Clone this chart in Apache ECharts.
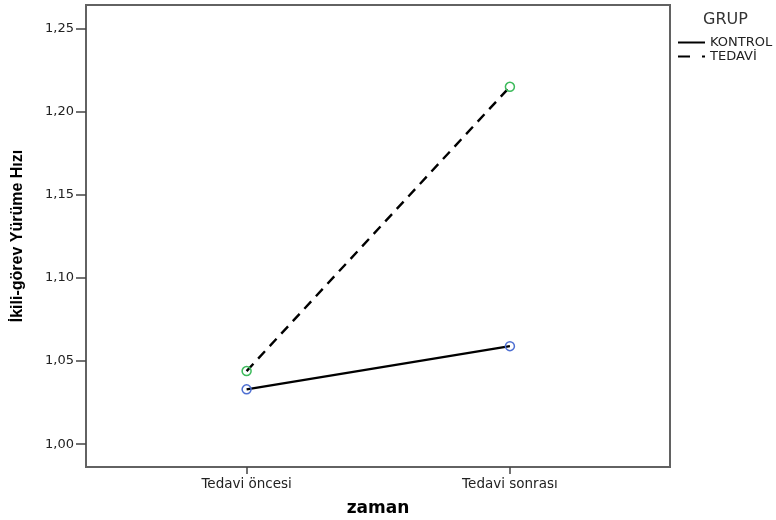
<!DOCTYPE html>
<html>
<head>
<meta charset="utf-8">
<script src="https://cdn.jsdelivr.net/npm/echarts@6/dist/echarts.min.js"></script>
<style>
  html, body { margin: 0; padding: 0; background: #fff; }
  #chart { width: 776px; height: 520px; }
</style>
</head>
<body>
<div id="chart"></div>
<script>
// Measurement occasions on the x axis
const categories = ['Tedavi öncesi', 'Tedavi sonrası'];
// Estimated marginal means of dual-task walking speed per group
const kontrol = [1.033, 1.059];
const tedavi = [1.044, 1.215];
// Y axis tick values
const yTicks = [1.00, 1.05, 1.10, 1.15, 1.20, 1.25];

const chart = echarts.init(document.getElementById('chart'), null, { renderer: 'canvas' });

const labelFont = 'DejaVu Sans';
const frameColor = '#626262';
const blackKey = { color: '#000', borderColor: '#000', borderWidth: 0 };

chart.setOption({
  animation: false,
  backgroundColor: '#ffffff',
  title: {
    text: 'GRUP',
    left: 698,
    top: 7,
    textStyle: { fontFamily: labelFont, fontSize: 16, fontWeight: 'normal', color: '#333' }
  },
  legend: {
    orient: 'vertical',
    left: 673,
    top: 31,
    itemWidth: 27,
    itemHeight: 2,
    itemGap: 1,
    itemStyle: blackKey,
    lineStyle: { color: '#000' },
    textStyle: { fontFamily: labelFont, fontSize: 13, color: '#222', lineHeight: 12 },
    data: [
      { name: 'KONTROL', icon: 'path://M0,0H27V2H0Z', itemStyle: blackKey },
      { name: 'TEDAVİ', icon: 'path://M0,0H12V2H0ZM24,0H27V2H24Z', itemStyle: blackKey }
    ]
  },
  grid: {
    left: 86, right: 106, top: 5, bottom: 53,
    containLabel: false,
    outerBoundsMode: 'none',
    show: true, borderColor: frameColor, borderWidth: 2, backgroundColor: 'transparent'
  },
  xAxis: {
    type: 'value',
    min: -0.61,
    max: 1.608,
    name: 'zaman',
    nameLocation: 'middle',
    nameGap: 33,
    nameTextStyle: { fontFamily: labelFont, fontSize: 17, fontWeight: 'bold', color: '#000' },
    axisLine: { show: false, onZero: false },
    splitLine: { show: false },
    axisTick: { show: true, length: 7, customValues: [0, 1], lineStyle: { color: '#444', width: 1.5 } },
    axisLabel: {
      customValues: [0, 1],
      margin: 10,
      formatter: v => categories[Math.round(v)],
      fontFamily: labelFont, fontSize: 13.5, color: '#222'
    }
  },
  yAxis: {
    type: 'value',
    min: 0.9863,
    max: 1.2642,
    name: 'İkili-görev Yürüme Hızı',
    nameLocation: 'middle',
    nameRotate: 90,
    nameGap: 60,
    nameTextStyle: { fontFamily: 'Liberation Sans', fontSize: 16, fontWeight: 'bold', color: '#000' },
    axisLine: { show: false, onZero: false },
    splitLine: { show: false },
    axisTick: { show: true, length: 10, customValues: yTicks, lineStyle: { color: '#444', width: 1.5 } },
    axisLabel: {
      customValues: yTicks,
      margin: 12,
      formatter: v => v.toFixed(2).replace('.', ','),
      fontFamily: labelFont, fontSize: 13, color: '#222'
    }
  },
  series: [
    {
      name: 'KONTROL',
      type: 'line',
      data: kontrol.map((v, i) => [i, v]),
      symbol: 'circle',
      symbolSize: 9,
      lineStyle: { color: '#000', width: 2.4 },
      itemStyle: { color: 'rgba(0,0,0,0)', borderColor: '#4e6fd2', borderWidth: 1.5 }
    },
    {
      name: 'TEDAVİ',
      type: 'line',
      data: tedavi.map((v, i) => [i, v]),
      symbol: 'circle',
      symbolSize: 9,
      lineStyle: { color: '#000', width: 2.4, type: [10, 7] },
      itemStyle: { color: 'rgba(0,0,0,0)', borderColor: '#3dbb5c', borderWidth: 1.5 }
    }
  ]
});
</script>
</body>
</html>
